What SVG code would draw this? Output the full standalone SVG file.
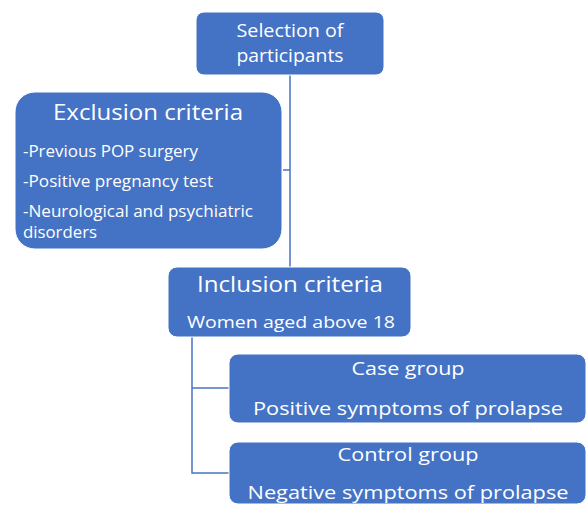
<svg xmlns="http://www.w3.org/2000/svg" width="587" height="506" viewBox="0 0 587 506">
<style>
.box{fill:#4472C4;stroke:#ffffff;stroke-width:1}
.t{font-family:"Open Sans","Noto Sans",sans-serif;fill:#ffffff}
.c{text-anchor:middle}
.conn{stroke:#4a74c2;stroke-width:1.5;fill:none}
</style>
<rect width="587" height="506" fill="#ffffff"/>
<g id="connectors">
<path class="conn" d="M290 75 V268 M283 170 H290"/>
<path class="conn" d="M192 337 V473 H229 M192 388 H229"/>
</g>
<g id="selection">
<rect class="box" x="196" y="12" width="188" height="63" rx="8"/>
<text class="t c" x="290" y="37" font-size="19" textLength="107" lengthAdjust="spacingAndGlyphs">Selection of</text>
<text class="t c" x="290" y="62" font-size="19" textLength="107" lengthAdjust="spacingAndGlyphs">participants</text>
</g>
<g id="exclusion">
<rect class="box" x="15" y="92" width="267" height="157" rx="20"/>
<text class="t c" x="148" y="120" font-size="22" textLength="190" lengthAdjust="spacingAndGlyphs">Exclusion criteria</text>
<text class="t" x="23" y="157" font-size="16" textLength="175" lengthAdjust="spacingAndGlyphs">-Previous POP surgery</text>
<text class="t" x="23" y="187" font-size="16" textLength="190" lengthAdjust="spacingAndGlyphs">-Positive pregnancy test</text>
<text class="t" x="23" y="217" font-size="16" textLength="230" lengthAdjust="spacingAndGlyphs">-Neurological and psychiatric</text>
<text class="t" x="23" y="238" font-size="16" textLength="74" lengthAdjust="spacingAndGlyphs">disorders</text>
</g>
<g id="inclusion">
<rect class="box" x="168" y="267" width="243" height="70" rx="9"/>
<text class="t c" x="290" y="292" font-size="22" textLength="186" lengthAdjust="spacingAndGlyphs">Inclusion criteria</text>
<text class="t c" x="291" y="328" font-size="16.5" textLength="208" lengthAdjust="spacingAndGlyphs">Women aged above 18</text>
</g>
<g id="case">
<rect class="box" x="229" y="354" width="357" height="69" rx="9"/>
<text class="t c" x="408" y="375" font-size="18" textLength="113" lengthAdjust="spacingAndGlyphs">Case group</text>
<text class="t c" x="408" y="415" font-size="18" textLength="310" lengthAdjust="spacingAndGlyphs">Positive symptoms of prolapse</text>
</g>
<g id="control">
<rect class="box" x="229" y="442" width="357" height="62" rx="9"/>
<text class="t c" x="408" y="461" font-size="18" textLength="141" lengthAdjust="spacingAndGlyphs">Control group</text>
<text class="t c" x="408" y="499" font-size="18" textLength="321" lengthAdjust="spacingAndGlyphs">Negative symptoms of prolapse</text>
</g>
</svg>
